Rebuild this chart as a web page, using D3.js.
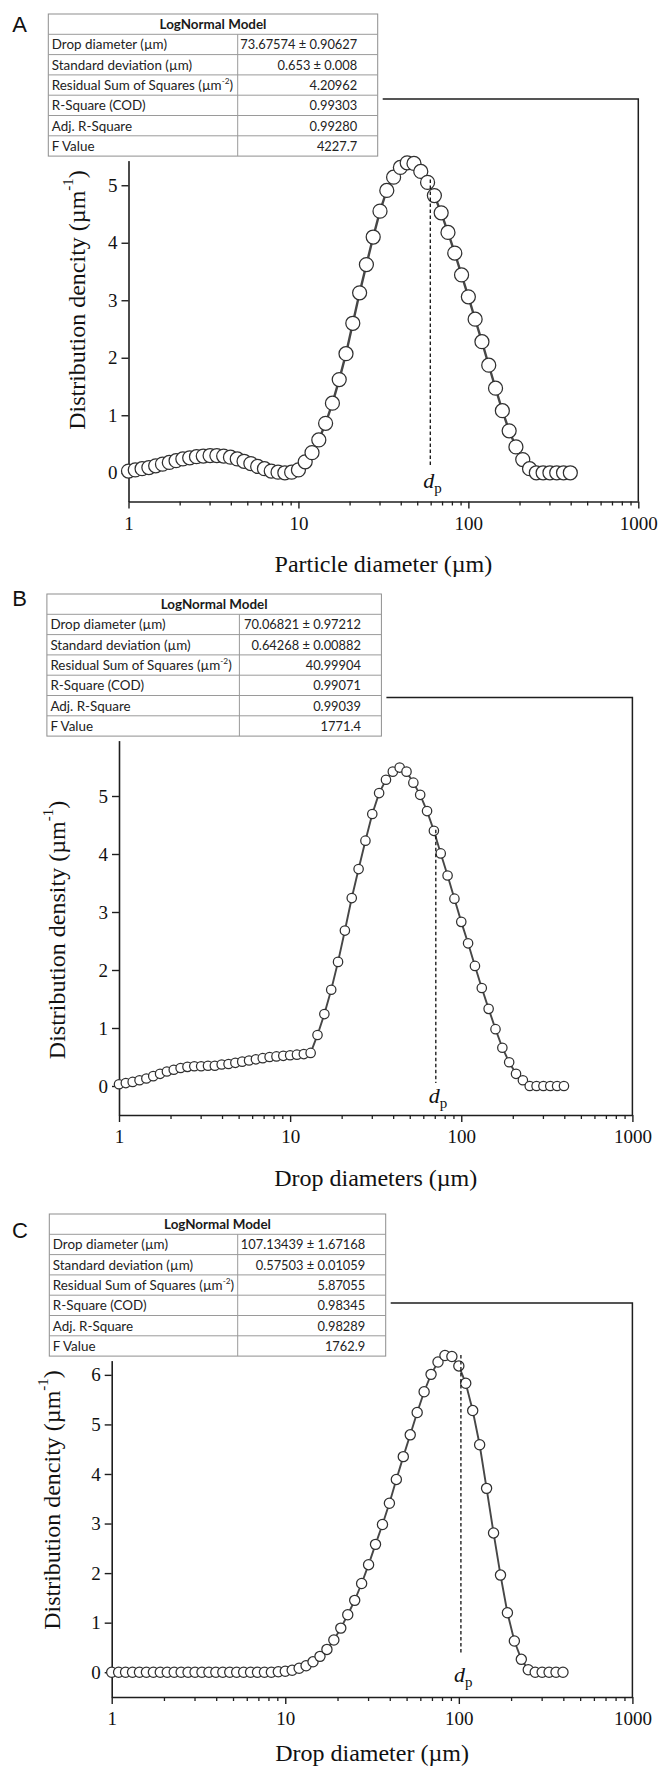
<!DOCTYPE html>
<html><head><meta charset="utf-8">
<script src="https://cdn.jsdelivr.net/npm/d3@7"></script>
<style>body{margin:0;background:#fff}svg{display:block}</style>
</head><body>
<svg id="chart" width="658" height="1771"></svg>
<script>
// ---- data ----
const sizes = [1.000,1.096,1.202,1.318,1.445,1.585,1.738,1.905,2.089,2.291,2.512,2.754,3.020,3.311,3.631,3.981,4.365,4.786,5.248,5.754,6.310,6.918,7.586,8.318,9.120,
  10.00,10.96,12.02,13.18,14.45,15.85,17.38,19.05,20.89,22.91,25.12,27.54,30.20,33.11,36.31,39.81,43.65,47.86,52.48,57.54,63.10,69.18,75.86,83.18,91.20,
  100.0,109.6,120.2,131.8,144.5,158.5,173.8,190.5,208.9,229.1,251.2,275.4,302.0,331.1,363.1,398.1];
const densityA = [0.03,0.05,0.07,0.09,0.12,0.15,0.18,0.21,0.24,0.26,0.28,0.29,0.30,0.30,0.29,0.27,0.24,0.20,0.16,0.11,0.07,0.03,0.01,0.00,0.01,
  0.05,0.19,0.35,0.57,0.86,1.21,1.62,2.07,2.60,3.13,3.62,4.10,4.55,4.91,5.14,5.31,5.39,5.38,5.24,5.05,4.82,4.52,4.18,3.82,3.44,
  3.06,2.67,2.28,1.87,1.47,1.08,0.73,0.45,0.23,0.07,0,0,0,0,0,0];
const densityB = [0.03,0.05,0.07,0.10,0.13,0.17,0.21,0.25,0.28,0.31,0.33,0.34,0.34,0.35,0.35,0.37,0.38,0.40,0.42,0.44,0.46,0.48,0.50,0.51,0.52,
  0.53,0.54,0.55,0.57,0.88,1.24,1.66,2.14,2.68,3.24,3.74,4.23,4.69,5.05,5.28,5.42,5.49,5.42,5.23,5.02,4.74,4.40,4.01,3.63,3.23,
  2.83,2.46,2.07,1.69,1.33,0.98,0.66,0.41,0.21,0.10,0,0,0,0,0,0];
const densityC = [0,0,0,0,0,0,0,0,0,0,0,0,0,0,0,0,0,0,0,0,0,0,0,0,0.01,
  0.02,0.04,0.08,0.13,0.21,0.32,0.46,0.65,0.89,1.16,1.45,1.79,2.17,2.58,2.98,3.41,3.89,4.35,4.79,5.24,5.66,6.01,6.26,6.39,6.37,
  6.18,5.83,5.28,4.59,3.71,2.81,1.96,1.20,0.63,0.26,0.05,0,0,0,0,0];
const xMajorTicks = [1,10,100,1000];
const xMinorTicks = [2,3,4,5,6,7,8,9,20,30,40,50,60,70,80,90,200,300,400,500,600,700,800,900];
const yTicksAB = [0,1,2,3,4,5];
const yTicksC = [0,1,2,3,4,5,6];
const dpMarks = [59.7, 71.0, 102.8];          // d_p position (µm)
const dpTop = [5.10, 4.42, 6.40];              // dashed line top value
const dpBottom = [0.13, 0.05, 0.37];           // dashed line bottom value
const tableTitle = "LogNormal Model";
const tableLabels = ["Drop diameter (µm)","Standard deviation (µm)","Residual Sum of Squares (µm","R-Square (COD)","Adj. R-Square","F Value"];
const tableA = ["73.67574 ± 0.90627","0.653 ± 0.008","4.20962","0.99303","0.99280","4227.7"];
const tableB = ["70.06821 ± 0.97212","0.64268 ± 0.00882","40.99904","0.99071","0.99039","1771.4"];
const tableC = ["107.13439 ± 1.67168","0.57503 ± 0.01059","5.87055","0.98345","0.98289","1762.9"];
const panelLetters = ["A","B","C"];
const xTitles = ["Particle diameter (µm)","Drop diameters (µm)","Drop diameter (µm)"];
const yTitles = ["Distribution dencity (µm","Distribution density (µm","Distribution dencity (µm"];

// ---- layout ----
const panels = [
  {vals:densityA, tbl:tableA, yTicks:yTicksAB, ymax:6.5,
   left:128.5, right:638.3, bottom:501.5, top:99, r:7, lw:2.4,
   tx:48.3, ty:14, tw:329.4, tdiv:237.7, lx:19.5, ly:31.5,
   xtY:572, ytX:77, ytY:300, dpOff:15},
  {vals:densityB, tbl:tableB, yTicks:yTicksAB, ymax:6.7,
   left:119, right:632.4, bottom:1115, top:697.4, r:4.7, lw:1.9,
   tx:46.9, ty:594, tw:334.5, tdiv:239.4, lx:19.5, ly:606,
   xtY:1186, ytX:57, ytY:930, dpOff:17},
  {vals:densityC, tbl:tableC, yTicks:yTicksC, ymax:7.45,
   left:111.7, right:632.4, bottom:1697, top:1303, r:5.1, lw:1.9,
   tx:49.3, ty:1214, tw:336.4, tdiv:237.7, lx:20, ly:1238,
   xtY:1761, ytX:52, ytY:1500, dpOff:10}
];

const svg = d3.select("#chart");
const SERIF = "'Liberation Serif','Times New Roman',serif";
const SANS = "Lato,'Liberation Sans',sans-serif";
const AX = "#1e1e1e";

// measure table font sizes so text widths follow the reference table
function measure(str, fs, weight){
  const t = svg.append("text").attr("font-family",SANS).attr("font-size",fs)
    .attr("font-weight",weight||"normal").text(str);
  const w = t.node().getComputedTextLength(); t.remove(); return w;
}
const base = 14;
const labFS = base * 170 / measure("Residual Sum of Squares (µm", base);
const valFS = Math.min(labFS, base * 117 / measure("73.67574 ± 0.90627", base));

panels.forEach((p, i) => {
  const g = svg.append("g");
  const x = d3.scaleLog().domain([1,1000]).range([p.left, p.right]);
  const y = d3.scaleLinear().domain([-0.5, p.ymax]).range([p.bottom, p.top]);

  // frame top/right
  g.append("path")
    .attr("d", `M${p.left},${p.top}H${p.right}V${p.bottom}`)
    .attr("fill","none").attr("stroke",AX).attr("stroke-width",1.5);

  // x axis minor
  const gxm = g.append("g").attr("transform",`translate(0,${p.bottom})`)
    .call(d3.axisBottom(x).tickValues(xMinorTicks).tickSize(4).tickFormat(""));
  gxm.select(".domain").remove();
  gxm.selectAll("line").attr("stroke",AX).attr("stroke-width",1.3);
  // x axis major
  const gx = g.append("g").attr("transform",`translate(0,${p.bottom})`)
    .call(d3.axisBottom(x).tickValues(xMajorTicks).tickSize(7).tickSizeOuter(0).tickPadding(8).tickFormat(d3.format("d")));
  gx.select(".domain").attr("stroke",AX).attr("stroke-width",1.6);
  gx.selectAll("line").attr("stroke",AX).attr("stroke-width",1.4);
  gx.selectAll("text").attr("font-family",SERIF).attr("font-size",19).attr("fill","#111");

  // y axis
  const gy = g.append("g").attr("transform",`translate(${p.left},0)`)
    .call(d3.axisLeft(y).tickValues(p.yTicks).tickSize(7).tickSizeOuter(0).tickPadding(4).tickFormat(d3.format("d")));
  gy.select(".domain").attr("stroke",AX).attr("stroke-width",1.6);
  gy.selectAll("line").attr("stroke",AX).attr("stroke-width",1.4);
  gy.selectAll("text").attr("font-family",SERIF).attr("font-size",19).attr("fill","#111");

  // x title
  g.append("text").attr("x",(p.left+p.right)/2).attr("y",p.xtY)
    .attr("text-anchor","middle").attr("font-family",SERIF).attr("font-size",24).attr("fill","#111")
    .text(xTitles[i]);
  // y title
  const yt = g.append("text")
    .attr("transform",`translate(${p.ytX},${p.ytY}) rotate(-90)`)
    .attr("text-anchor","middle").attr("dominant-baseline","central")
    .attr("font-family",SERIF).attr("font-size",24).attr("fill","#111");
  yt.append("tspan").text(yTitles[i]);
  yt.append("tspan").attr("font-size",15).attr("dy",-9).text("-1");
  yt.append("tspan").attr("dy",9).text(")");

  // data
  const pts = sizes.map((s,k)=>({s, v:p.vals[k]}));
  g.append("path").datum(pts)
    .attr("d", d3.line().x(d=>x(d.s)).y(d=>y(d.v)))
    .attr("fill","none").attr("stroke","#474747").attr("stroke-width",p.lw);
  g.selectAll("circle.pt").data(pts).join("circle").attr("class","pt")
    .attr("cx",d=>x(d.s)).attr("cy",d=>y(d.v)).attr("r",p.r)
    .attr("fill","#fff").attr("stroke","#303030").attr("stroke-width",1.25);

  // dp marker
  g.append("line").attr("x1",x(dpMarks[i])).attr("x2",x(dpMarks[i]))
    .attr("y1",y(dpTop[i])).attr("y2",y(dpBottom[i]))
    .attr("stroke","#111").attr("stroke-width",1.3).attr("stroke-dasharray","3.5,2.5");
  const dl = g.append("text").attr("x",x(dpMarks[i])-7).attr("y",y(0)+p.dpOff)
    .attr("font-family",SERIF).attr("font-size",22).attr("fill","#111");
  dl.append("tspan").attr("font-style","italic").text("d");
  dl.append("tspan").attr("font-size",15).attr("dy",5).text("p");

  // table
  const rowH = 20.3, nRows = 7;
  const th = rowH*nRows;
  const tg = g.append("g");
  tg.append("rect").attr("x",p.tx-5).attr("y",p.ty-5).attr("width",p.tw+10).attr("height",th+10).attr("fill","#fff");
  tg.append("rect").attr("x",p.tx).attr("y",p.ty).attr("width",p.tw).attr("height",th)
    .attr("fill","#fff").attr("stroke","#8e8e8e").attr("stroke-width",1);
  for (let r=1;r<nRows;r++){
    tg.append("line").attr("x1",p.tx).attr("x2",p.tx+p.tw).attr("y1",p.ty+r*rowH).attr("y2",p.ty+r*rowH)
      .attr("stroke","#9a9a9a").attr("stroke-width",1);
  }
  tg.append("line").attr("x1",p.tdiv).attr("x2",p.tdiv).attr("y1",p.ty+rowH).attr("y2",p.ty+th)
    .attr("stroke","#9a9a9a").attr("stroke-width",1);
  tg.append("text").attr("x",p.tx+p.tw/2).attr("y",p.ty+15).attr("text-anchor","middle")
    .attr("font-family",SANS).attr("font-weight","bold").attr("font-size",labFS).attr("fill","#1a1a1a").text(tableTitle);
  tableLabels.forEach((lab, r) => {
    const by = p.ty + (r+1)*rowH + 15;
    const t = tg.append("text").attr("x",p.tx+3.5).attr("y",by)
      .attr("font-family",SANS).attr("font-size",labFS).attr("fill","#222");
    t.append("tspan").text(lab);
    if (r === 2) {
      t.append("tspan").attr("font-size",labFS*0.62).attr("dy",-5.5).text("-2");
      t.append("tspan").attr("dy",5.5).text(")");
    }
    tg.append("text").attr("x",p.tx+p.tw-20.5).attr("y",by).attr("text-anchor","end")
      .attr("font-family",SANS).attr("font-size",valFS).attr("fill","#222").text(p.tbl[r]);
  });

  // panel letter
  g.append("text").attr("x",p.lx).attr("y",p.ly).attr("text-anchor","middle")
    .attr("font-family","'Liberation Sans',Arial,sans-serif").attr("font-size",22).attr("fill","#111")
    .text(panelLetters[i]);
});
</script>
</body></html>
